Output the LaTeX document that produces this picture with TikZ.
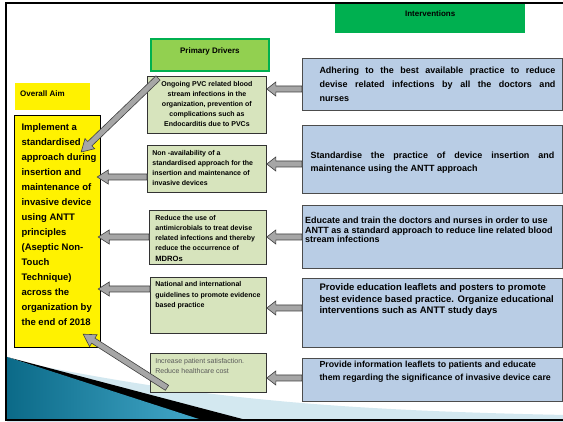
\documentclass[tikz,border=0pt]{standalone}
\usepackage{fontspec}
\setmainfont{Liberation Sans}
\usetikzlibrary{calc}
\definecolor{intgreen}{HTML}{00B050}
\definecolor{pdfill}{HTML}{92D050}
\definecolor{pdline}{HTML}{00B050}
\definecolor{drvfill}{HTML}{D7E4BD}
\definecolor{blufill}{HTML}{B9CDE5}
\definecolor{arrgray}{HTML}{A6A6A6}
\definecolor{arrline}{HTML}{404040}
\definecolor{paleblue}{HTML}{D3E8F0}
\definecolor{tealdark}{HTML}{0B6A88}
\definecolor{teallight}{HTML}{45AACB}
\definecolor{drvgray}{HTML}{595959}
\newcommand{\titlefont}{\fontsize{8}{10}\selectfont\bfseries}
\newcommand{\drvfont}{\fontsize{7}{10}\selectfont\bfseries}
\newcommand{\blufont}[2]{\fontsize{#1}{#2}\selectfont\bfseries}
\newcommand{\aimfont}{\fontsize{9.5}{15}\selectfont\bfseries}
\newcommand{\blockarrow}[3]{%
  \coordinate (bas) at (#1);
  \coordinate (bat) at (#2);
  \coordinate (bah) at ($(bat)!#3!(bas)$);
  \draw[barr] ($(bas)!3pt!90:(bat)$) -- ($(bah)!3pt!-90:(bas)$) -- ($(bah)!7pt!-90:(bas)$) -- (bat) -- ($(bah)!7pt!90:(bas)$) -- ($(bah)!3pt!90:(bas)$) -- ($(bas)!3pt!-90:(bat)$) -- cycle;
}
\tikzset{
  drv/.style={draw=black!80, line width=0.8pt, fill=drvfill, inner sep=0pt, anchor=north west},
  blu/.style={draw=black!70, line width=1pt, fill=blufill, inner sep=0pt, anchor=north west},
  barr/.style={draw=arrline, fill=arrgray, line width=0.6pt, line join=miter},
}
\begin{document}
\begin{tikzpicture}[x=1pt,y=-1pt]
\useasboundingbox (0,0) rectangle (563,422);
\fill[white] (0,0) rectangle (563,422);

% bottom-left decoration
\fill[paleblue] (40,366) .. controls (200,397) and (320,410) .. (566,415) -- (566,422) -- (7,422) -- cycle;
\fill[black] (7,357) -- (250,421) -- (200,421) -- cycle;
\shade[left color=tealdark, right color=teallight] (7,357) -- (205,421) -- (7,421) -- cycle;

% headers
\node[fill=intgreen, inner sep=0pt, anchor=north west] (int) at (335,4)
  {\parbox[c][29pt][t]{190pt}{\centering\titlefont\rule{0pt}{12pt}Interventions}};
\node[fill=pdfill, draw=pdline, line width=1.8pt, inner sep=0pt, anchor=north west] (pd) at (150,38)
  {\parbox[c][32pt][t]{118pt}{\centering\titlefont\rule{0pt}{15pt}Primary Drivers}};
\node[fill=yellow, inner sep=0pt, anchor=north west] (oa) at (15,83)
  {\parbox[c][27pt][t]{75pt}{\raggedright\leftskip=5pt\titlefont\rule{0pt}{13pt}Overall Aim}};

% overall aim
\node[fill=yellow, draw=black, line width=1.2pt, inner sep=0pt, anchor=north west] (aim) at (14,115)
  {\parbox[c][232pt][t]{86pt}{\raggedright\leftskip=7pt\aimfont\rule{0pt}{14.5pt}Implement a\\ standardised\\ approach during\\ insertion and\\ maintenance of\\ invasive device\\ using ANTT\\ principles\\ (Aseptic Non-\\ Touch\\ Technique)\\ across the\\ organization by\\ the end of 2018}};

% primary drivers
\node[drv] (d1) at (147,76)
  {\parbox[c][57pt][t]{119pt}{\centering\drvfont\rule{0pt}{10.2pt}Ongoing PVC related blood\\ stream infections in the\\ organization, prevention of\\ complications such as\\ Endocarditis due to PVCs}};
\node[drv] (d2) at (147,145)
  {\parbox[c][47pt][t]{119pt}{\raggedright\leftskip=5pt\drvfont\rule{0pt}{10.2pt}Non -availability of a\\ standardised approach for the\\ insertion and maintenance of\\ invasive devices}};
\node[drv] (d3) at (149,210)
  {\parbox[c][54pt][t]{117pt}{\raggedright\leftskip=6pt\drvfont\rule{0pt}{10.2pt}Reduce the use of\\ antimicrobials to treat devise\\ related infections and thereby\\ reduce the occurrence of\\[1pt] {\fontsize{7.6}{10}\selectfont MDROs}}};
\node[drv] (d4) at (150,277)
  {\parbox[c][56pt][t]{116pt}{\raggedright\leftskip=5pt\fontsize{7}{10.5}\selectfont\bfseries\rule{0pt}{9.2pt}National and international\\ guidelines to promote evidence\\ based practice}};
\node[drv] (d5) at (150,353)
  {\parbox[c][39pt][t]{116pt}{\raggedright\leftskip=5pt\drvfont\mdseries\color{drvgray}\rule{0pt}{10.2pt}Increase patient satisfaction.\\ Reduce healthcare cost}};

% interventions
\node[blu] (b1) at (302,58)
  {\parbox[c][52pt][t]{260pt}{\leftskip=17pt\rightskip=7pt\blufont{9}{14}\rule{0pt}{15.5pt}Adhering to the best available practice to reduce\linebreak devise related infections by all the doctors and\linebreak nurses}};
\node[blu] (b2) at (302,125)
  {\parbox[c][68pt][t]{260pt}{\leftskip=8pt\rightskip=8pt\blufont{9}{13}\rule{0pt}{33.5pt}Standardise the practice of device insertion and\linebreak maintenance using the ANTT approach}};
\node[blu] (b3) at (302,205)
  {\parbox[c][63pt][t]{260pt}{\raggedright\leftskip=2.5pt\blufont{9}{9.3}\rule{0pt}{18.5pt}Educate and train the doctors and nurses in order to use\\ ANTT as a standard approach to reduce line related blood\\ stream infections}};
\node[blu] (b4) at (302,278)
  {\parbox[c][69pt][t]{260pt}{\raggedright\leftskip=17pt\blufont{9.5}{11.5}\rule{0pt}{12.5pt}Provide education leaflets and posters to promote\\ best evidence based practice. Organize educational\\ interventions such as ANTT study days}};
\node[blu] (b5) at (302,358)
  {\parbox[c][43pt][t]{260pt}{\raggedright\leftskip=17pt\blufont{8.8}{13}\rule{0pt}{9pt}Provide information leaflets to patients and educate\\ them regarding the significance of invasive device care}};

% arrows: interventions -> drivers
\blockarrow{b1.west |- 0,89}{d1.east |- 0,89}{9pt}
\blockarrow{b2.west |- 0,164}{d2.east |- 0,164}{9pt}
\blockarrow{b3.west |- 0,237}{d3.east |- 0,237}{9pt}
\blockarrow{b4.west |- 0,308}{d4.east |- 0,308}{9pt}
\blockarrow{b5.west |- 0,378}{d5.east |- 0,378}{9pt}

% arrows: drivers -> aim
\blockarrow{d2.west |- 0,177}{$(aim.east |- 0,177)+(-4,0)$}{11pt}
\blockarrow{d3.west |- 0,237}{$(aim.east |- 0,237)+(-3,0)$}{11pt}
\blockarrow{d4.west |- 0,289}{$(aim.east |- 0,289)+(-3,0)$}{11pt}
\blockarrow{$(d1.north west)+(11,2)$}{$(aim.north east)+(-20,37)$}{12pt}
\blockarrow{$(d5.south west)+(17,-5)$}{$(aim.south east)+(-18,-14)$}{12pt}

% frame
\draw[line width=2.6pt, line join=miter] (566,3) -- (6,3) -- (6,420) -- (566,420);
\end{tikzpicture}
\end{document}
